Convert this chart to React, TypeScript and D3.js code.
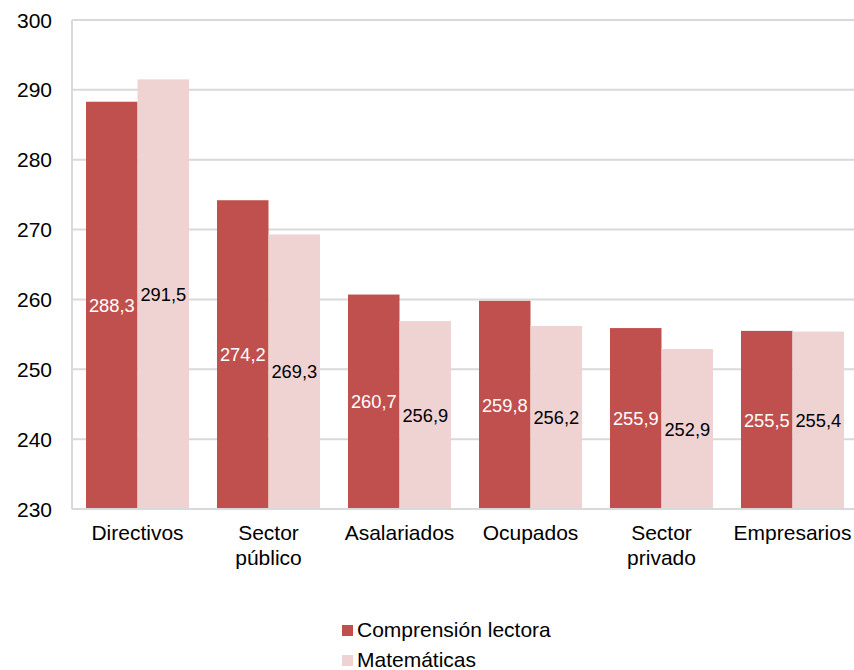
import React from "react";
import * as d3 from "d3";

const categories = ["Directivos", "Sector\npúblico", "Asalariados", "Ocupados", "Sector\nprivado", "Empresarios"];
const lectora = [288.3, 274.2, 260.7, 259.8, 255.9, 255.5];
const matematicas = [291.5, 269.3, 256.9, 256.2, 252.9, 255.4];
const seriesNames = ["Comprensión lectora", "Matemáticas"];
const yTicks = [230, 240, 250, 260, 270, 280, 290, 300];

const W = 854, H = 670;
const left = 72, top = 20, bottom = 509;
const step = 131;
const DARK = "#C0504D", LIGHT = "#EFD3D3";
const FONT = "'Liberation Sans', Arial, sans-serif";

export default function App() {
  const x = d3.scaleBand<string>().domain(categories).range([left, left + step * categories.length]).paddingInner(28 / 131).paddingOuter(14 / 131);
  const y = d3.scaleLinear().domain([230, 300]).range([bottom, top]);
  const inner = d3.scaleBand<number>().domain([0, 1]).range([0, x.bandwidth()]);
  const series = [lectora, matematicas];
  const fmt = (v: number) => v.toFixed(1).replace(".", ",");
  return (
    <svg width={W} height={H} style={{ position: "absolute", left: 0, top: 0 }} fontFamily={FONT}>
      <rect width={W} height={H} fill="#fff" />
      {yTicks.map((t) => (
        <g key={t}>
          <line x1={left} x2={W} y1={y(t)} y2={y(t)} stroke="#D9D9D9" strokeWidth={2} />
          <text x={52} y={y(t)} dy="0.36em" textAnchor="end" fontSize={21} fill="#000">{t}</text>
        </g>
      ))}
      <line x1={left} x2={left} y1={top} y2={bottom} stroke="#D9D9D9" strokeWidth={2} />
      {series.map((vals, si) =>
        vals.map((v, i) => {
          const bx = (x(categories[i]) as number) + (inner(si) as number);
          const by = y(v);
          return (
            <g key={si + "-" + i}>
              <rect x={bx} y={by} width={inner.bandwidth()} height={bottom - by} fill={si === 0 ? DARK : LIGHT} />
            </g>
          );
        })
      )}
      {series.map((vals, si) =>
        vals.map((v, i) => {
          const bx = (x(categories[i]) as number) + (inner(si) as number);
          const by = y(v);
          return (
            <text key={"l" + si + "-" + i} x={bx + inner.bandwidth() / 2} y={(by + bottom) / 2} dy="0.36em" textAnchor="middle" fontSize={18.3} fill={si === 0 ? "#fff" : "#000"}>
              {fmt(v)}
            </text>
          );
        })
      )}
      <line x1={left} x2={W} y1={bottom} y2={bottom} stroke="#D9D9D9" strokeWidth={2} />
      {categories.map((c) => (
        <text key={c} x={(x(c) as number) + x.bandwidth() / 2} y={540} textAnchor="middle" fontSize={21} fill="#000">
          {c.split("\n").map((ln, k) => (
            <tspan key={k} x={(x(c) as number) + x.bandwidth() / 2} dy={k === 0 ? 0 : 25}>{ln}</tspan>
          ))}
        </text>
      ))}
      {seriesNames.map((n, i) => (
        <g key={n}>
          <rect x={342} y={625 + i * 30} width={11} height={11} fill={i === 0 ? DARK : LIGHT} />
          <text x={357} y={637 + i * 30} fontSize={21} fill="#000">{n}</text>
        </g>
      ))}
    </svg>
  );
}
